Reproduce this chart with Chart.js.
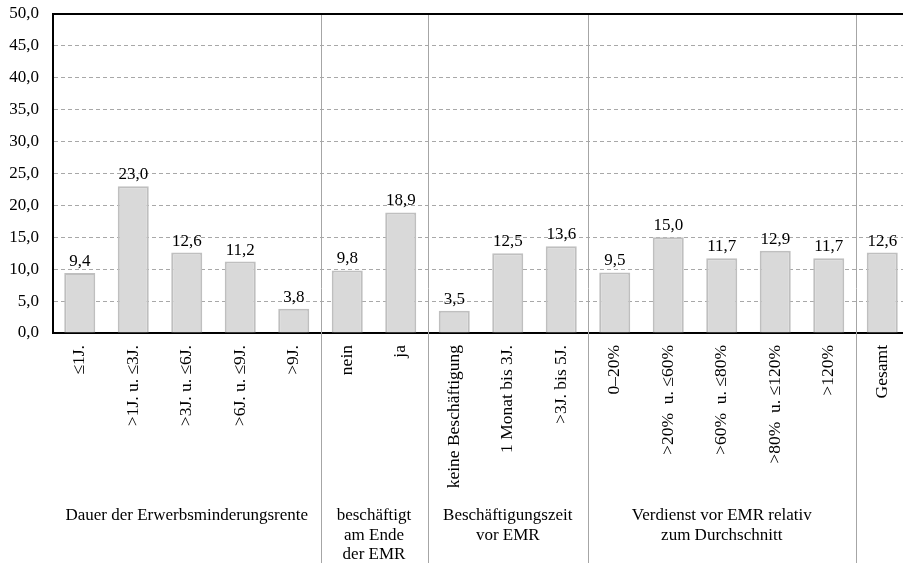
<!DOCTYPE html>
<html>
<head>
<meta charset="utf-8">
<script src="https://cdn.jsdelivr.net/npm/chart.js@4/dist/chart.umd.min.js"></script>
<style>
  html, body { margin: 0; padding: 0; background: #fff; overflow: hidden; }
  #wrap { width: 903px; height: 563px; overflow: hidden; }
  canvas { display: block; }
</style>
</head>
<body>
<div id="wrap"><canvas id="emrChart" width="909" height="563"></canvas></div>
<script>
// data
const categories = ['≤1J.', '>1J. u. ≤3J.', '>3J. u. ≤6J.', '>6J. u. ≤9J.', '>9J.',
  'nein', 'ja',
  'keine Beschäftigung', '1 Monat bis 3J.', '>3J. bis 5J.',
  '0–20%', '>20%  u. ≤60%', '>60%  u. ≤80%', '>80%  u. ≤120%', '>120%',
  'Gesamt'];
const values = [9.4, 23.0, 12.6, 11.2, 3.8, 9.8, 18.9, 3.5, 12.5, 13.6, 9.5, 15.0, 11.7, 12.9, 11.7, 12.6];
const groupNames = [
  ['Dauer der Erwerbsminderungsrente'],
  ['beschäftigt', 'am Ende', 'der EMR'],
  ['Beschäftigungszeit', 'vor EMR'],
  ['Verdienst vor EMR relativ', 'zum Durchschnitt'],
  []
];
const groupStarts = [0, 5, 7, 10, 15];
const groupEnds = [4, 6, 9, 14, 15];
const yTicks = [0, 5, 10, 15, 20, 25, 30, 35, 40, 45, 50];

const FONT = "'Liberation Serif', 'Times New Roman', serif";
const fmt = v => v.toFixed(1).replace('.', ',');

const decor = {
  id: 'decor',
  afterDraw(chart) {
    const ctx = chart.ctx, a = chart.chartArea, xs = chart.scales.x;
    ctx.save();
    // group separators
    ctx.strokeStyle = '#a6a6a6';
    ctx.lineWidth = 1;
    for (let g = 0; g < groupEnds.length - 1; g++) {
      const x = Math.round((xs.getPixelForValue(groupEnds[g]) + xs.getPixelForValue(groupEnds[g] + 1)) / 2) + 0.5;
      ctx.beginPath(); ctx.moveTo(x, a.top); ctx.lineTo(x, chart.height); ctx.stroke();
    }
    // top border
    ctx.strokeStyle = '#000';
    ctx.lineWidth = 2;
    ctx.beginPath(); ctx.moveTo(a.left - 1, a.top); ctx.lineTo(a.right, a.top); ctx.stroke();
    // value labels
    ctx.fillStyle = '#000';
    ctx.font = '17px ' + FONT;
    ctx.textAlign = 'center';
    ctx.textBaseline = 'alphabetic';
    chart.getDatasetMeta(0).data.forEach((bar, i) => {
      ctx.fillText(fmt(values[i]), bar.x, bar.y - 7);
    });
    // group labels
    ctx.textBaseline = 'middle';
    groupNames.forEach((lines, g) => {
      const cx = (xs.getPixelForValue(groupStarts[g]) + xs.getPixelForValue(groupEnds[g])) / 2;
      lines.forEach((t, k) => ctx.fillText(t, cx, a.bottom + 183 + k * 19.5));
    });
    ctx.restore();
  }
};

new Chart(document.getElementById('emrChart'), {
  type: 'bar',
  data: {
    labels: categories,
    datasets: [{
      data: values,
      backgroundColor: '#d9d9d9',
      borderColor: '#bfbfbf',
      borderWidth: 2,
      borderSkipped: 'bottom',
      barPercentage: 0.58,
      categoryPercentage: 1
    }]
  },
  options: {
    responsive: false,
    animation: false,
    layout: { padding: { top: 14, left: 0, right: 0, bottom: 0 } },
    plugins: { legend: { display: false }, tooltip: { enabled: false } },
    scales: {
      x: {
        grid: { display: false },
        border: { color: '#000', width: 2 },
        ticks: {
          autoSkip: false, minRotation: 90, maxRotation: 90, padding: 4,
          color: '#000', font: { family: FONT, size: 17.5 }
        },
        afterFit(s) { s.height = 230; }
      },
      y: {
        min: 0, max: 50,
        afterBuildTicks(s) { s.ticks = yTicks.map(v => ({ value: v })); },
        grid: {
          color: ctx => (ctx.tick && (ctx.tick.value === 0 || ctx.tick.value === 50)) ? 'rgba(0,0,0,0)' : '#a8a8a8',
          drawTicks: false, lineWidth: 1
        },
        border: { color: '#000', width: 2, dash: [4, 3] },
        ticks: {
          padding: 14, color: '#000', font: { family: FONT, size: 17 },
          callback: v => fmt(v)
        },
        afterFit(s) { s.width = 53; s.paddingTop = 0; s.paddingBottom = 0; }
      }
    }
  },
  plugins: [decor]
});
</script>
</body>
</html>
